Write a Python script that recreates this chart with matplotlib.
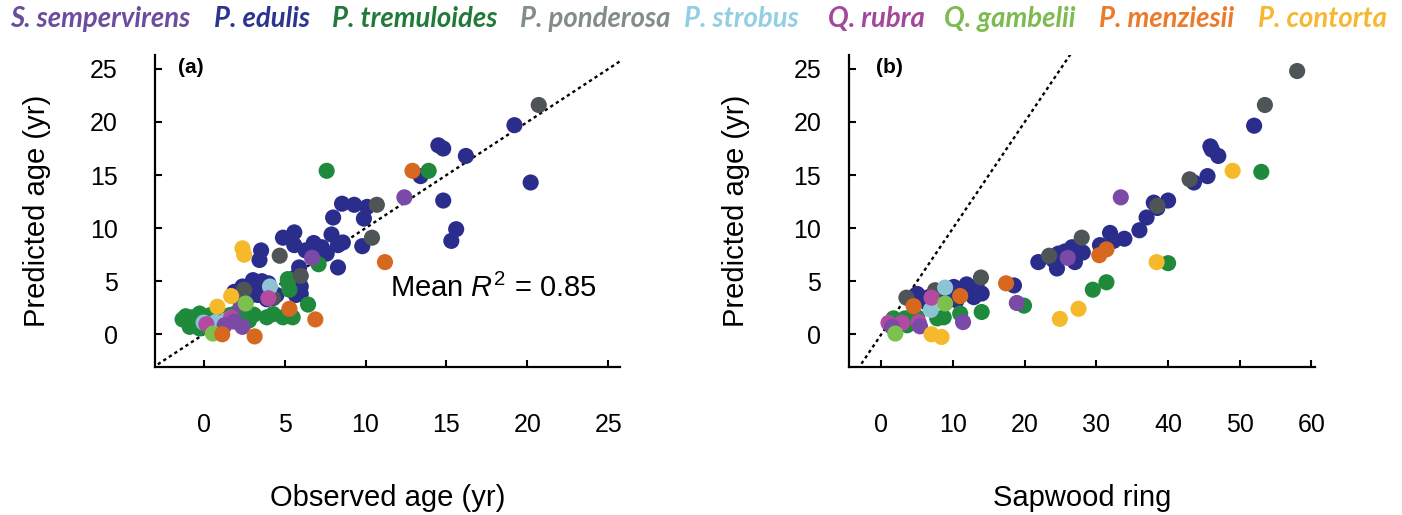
import matplotlib
matplotlib.use("Agg")
import matplotlib.pyplot as plt

plt.rcParams['font.family'] = ['Liberation Sans', 'DejaVu Sans']
plt.rcParams['mathtext.fontset'] = 'custom'
plt.rcParams['mathtext.rm'] = 'Liberation Sans'
plt.rcParams['mathtext.it'] = 'Liberation Sans:italic'

# species names and colours (legend / markers)
species = ['S. sempervirens', 'P. edulis', 'P. tremuloides', 'P. ponderosa', 'P. strobus',
           'Q. rubra', 'Q. gambelii', 'P. menziesii', 'P. contorta']
text_colors = ['#6b4c9e', '#2b3590', '#217a3a', '#838c8c', '#93cfe2',
               '#a3479b', '#7dba4f', '#eb7a2a', '#f7b731']
marker_colors = ['#7a4aa6', '#2a2d8c', '#1f8a3b', '#4f5457', '#8cc4d6',
                 '#b24aa2', '#7cc04e', '#d6691f', '#f6b92c']

# ---- panel (a): observed vs predicted age ----
a_edulis = [(19.2, 19.7), (14.5, 17.8), (14.8, 17.5), (16.2, 16.8), (13.4, 14.9), (20.2, 14.3),
            (14.8, 12.6), (15.6, 9.9), (15.3, 8.8), (8.55, 12.3), (9.3, 12.2), (10.1, 12.0),
            (8.0, 11.0), (9.9, 10.9), (7.9, 9.4), (4.9, 9.1), (5.6, 9.6), (5.6, 8.4), (6.3, 7.9),
            (6.8, 8.6), (7.3, 8.2), (7.6, 7.6), (7.05, 6.8), (8.3, 8.4), (8.6, 8.65), (9.8, 8.3),
            (8.3, 6.3), (5.9, 6.3), (5.7, 5.4), (3.55, 7.9), (3.45, 7.0), (6.0, 4.5), (5.7, 3.7),
            (6.0, 3.8), (3.05, 5.1), (2.4, 4.5), (1.9, 4.0), (3.15, 4.3), (2.85, 3.7), (3.35, 3.7),
            (4.5, 3.7), (3.9, 3.3), (4.0, 4.8), (3.6, 5.0)]
a_tremuloides = [(7.6, 15.4), (13.9, 15.4), (7.1, 6.6), (5.2, 5.2), (5.2, 4.9), (5.3, 4.2), (6.45, 2.8),
                 (-1.1, 1.7), (-0.7, 1.6), (-0.25, 1.95), (0.4, 1.8), (1.0, 1.6), (1.6, 1.8),
                 (2.0, 2.0), (2.6, 1.8), (3.1, 1.85), (3.9, 1.6), (4.9, 1.6), (5.5, 1.6),
                 (-0.86, 0.7), (-0.25, 0.55), (2.8, 1.3), (4.3, 1.9), (-1.3, 1.4)]
a_ponderosa = [(20.7, 21.6), (10.7, 12.2), (10.4, 9.1), (4.7, 7.4), (6.0, 5.5), (2.5, 4.2), (4.3, 3.4)]
a_strobus = [(4.1, 4.5), (0.0, 1.1), (0.75, 1.15), (1.4, 1.3)]
a_rubra = [(4.0, 3.4), (0.17, 0.95), (1.7, 1.6)]
a_sempervirens = [(12.4, 12.9), (6.7, 7.2), (2.3, 2.8), (1.3, 0.85), (1.9, 1.2), (2.4, 0.7)]
a_gambelii = [(0.57, 0.07), (2.6, 2.9)]
a_menziesii = [(12.9, 15.4), (11.2, 6.8), (5.3, 2.4), (6.9, 1.4), (1.15, 0.0), (3.15, -0.2)]
a_contorta = [(2.4, 8.1), (2.5, 7.5), (1.7, 3.6), (0.85, 2.6)]

# ---- panel (b): sapwood ring vs predicted age ----
b_edulis = [(52.0, 19.65), (45.9, 17.7), (46.1, 17.4), (47.0, 16.8), (45.5, 14.9), (43.6, 14.3),
            (38.0, 12.4), (40.0, 12.6), (38.5, 11.9), (37.0, 11.0), (36.0, 9.8), (31.9, 9.55),
            (33.9, 9.0), (32.4, 8.8), (30.5, 8.4), (26.6, 8.2), (27.5, 7.8), (28.1, 7.7), (27.0, 6.8),
            (25.6, 7.8), (24.7, 7.6), (24.0, 7.0), (24.5, 6.2), (21.9, 6.8), (18.5, 4.6), (5.0, 3.8),
            (8.7, 3.84), (10.1, 4.46), (11.9, 4.7), (13.3, 4.46), (14.0, 3.84), (12.9, 3.5),
            (10.5, 3.2), (9.6, 3.5), (6.6, 3.5), (6.4, 2.95)]
b_tremuloides = [(53.0, 15.3), (40.0, 6.7), (31.4, 4.9), (29.5, 4.2), (19.9, 2.7), (11.0, 1.95),
                 (14.0, 2.1), (7.8, 1.5), (8.7, 1.6), (1.7, 1.5), (3.3, 1.5), (5.0, 1.6), (3.6, 0.85)]
b_ponderosa = [(58.0, 24.8), (53.5, 21.6), (43.0, 14.6), (38.5, 12.1), (27.95, 9.1), (23.4, 7.4),
               (13.9, 5.35), (3.5, 3.45), (7.5, 4.15)]
b_strobus = [(8.9, 4.4), (6.9, 2.3)]
b_rubra = [(7.0, 3.45), (1.0, 1.07), (2.9, 1.07), (5.2, 1.16)]
b_sempervirens = [(33.4, 12.9), (26.0, 7.2), (18.9, 2.95), (11.4, 1.15), (1.5, 0.7), (5.4, 0.75)]
b_gambelii = [(8.9, 2.9), (1.95, 0.07)]
b_menziesii = [(31.4, 8.0), (30.4, 7.45), (17.4, 4.8), (4.5, 2.65), (11.0, 3.6)]
b_contorta = [(49.0, 15.4), (38.4, 6.8), (27.5, 2.4), (24.9, 1.45), (7.0, 0.0), (8.4, -0.25)]

a_ticks = [0, 5, 10, 15, 20, 25]
b_ticks = [0, 10, 20, 30, 40, 50, 60]
y_ticks = [0, 5, 10, 15, 20, 25]

# drawing order (bottom -> top)
order = [1, 2, 3, 4, 5, 0, 6, 7, 8]
panel_a = [a_sempervirens, a_edulis, a_tremuloides, a_ponderosa, a_strobus,
           a_rubra, a_gambelii, a_menziesii, a_contorta]
panel_b = [b_sempervirens, b_edulis, b_tremuloides, b_ponderosa, b_strobus,
           b_rubra, b_gambelii, b_menziesii, b_contorta]

fig = plt.figure(figsize=(14.02, 5.15), dpi=100)
ax_a = fig.add_axes([0.1106, 0.287, 0.3314, 0.606])
ax_b = fig.add_axes([0.6056, 0.287, 0.3324, 0.606])


def style_axis(ax, xlim, xticks, ypad):
    ax.set_xlim(*xlim)
    ax.set_ylim(-3.1, 26.3)
    for s in ['top', 'right']:
        ax.spines[s].set_visible(False)
    for s in ['left', 'bottom']:
        ax.spines[s].set_linewidth(1.6)
    ax.set_xticks(xticks)
    ax.set_yticks(y_ticks)
    ax.tick_params(axis='both', direction='in', length=5, width=1.5, labelsize=18)
    ax.tick_params(axis='x', pad=33)
    ax.tick_params(axis='y', pad=ypad)


for ax, data in [(ax_a, panel_a), (ax_b, panel_b)]:
    ax.plot([-10, 70], [-10, 70], color='black', lw=1.7, ls=(0, (1.4, 1.4)), zorder=1)
    for i in order:
        pts = data[i]
        ax.scatter([p[0] for p in pts], [p[1] for p in pts], s=135,
                   color=marker_colors[i], edgecolors='none', zorder=3)

style_axis(ax_a, (-3.0, 25.7), a_ticks, 27)
style_axis(ax_b, (-4.5, 60.5), b_ticks, 20)

ax_a.set_xlabel('Observed age (yr)', fontsize=21, labelpad=34)
ax_b.set_xlabel('Sapwood ring', fontsize=21, labelpad=34)
ax_a.set_ylabel('Predicted age (yr)', fontsize=21, labelpad=28)
ax_b.set_ylabel('Predicted age (yr)', fontsize=21, labelpad=31)

ax_a.text(-1.6, 25.1, '(a)', fontsize=15, fontweight='bold', va='center', ha='left')
ax_b.text(-0.8, 25.1, '(b)', fontsize=15, fontweight='bold', va='center', ha='left')
ax_a.text(11.5, 4.3, 'Mean $R^2$ = 0.85', fontsize=21, va='center', ha='left')

# legend row across the top
legend_x = [10, 214, 332, 520, 684, 828, 944, 1099, 1258]
for name, col, x in zip(species, text_colors, legend_x):
    fig.text(x / 1402, 1 - 19 / 515, name, color=col, fontsize=19.8, fontweight='bold',
             fontstyle='italic', family=['Lato', 'DejaVu Sans'], va='center', ha='left')

fig.savefig('out.png', dpi=100)
